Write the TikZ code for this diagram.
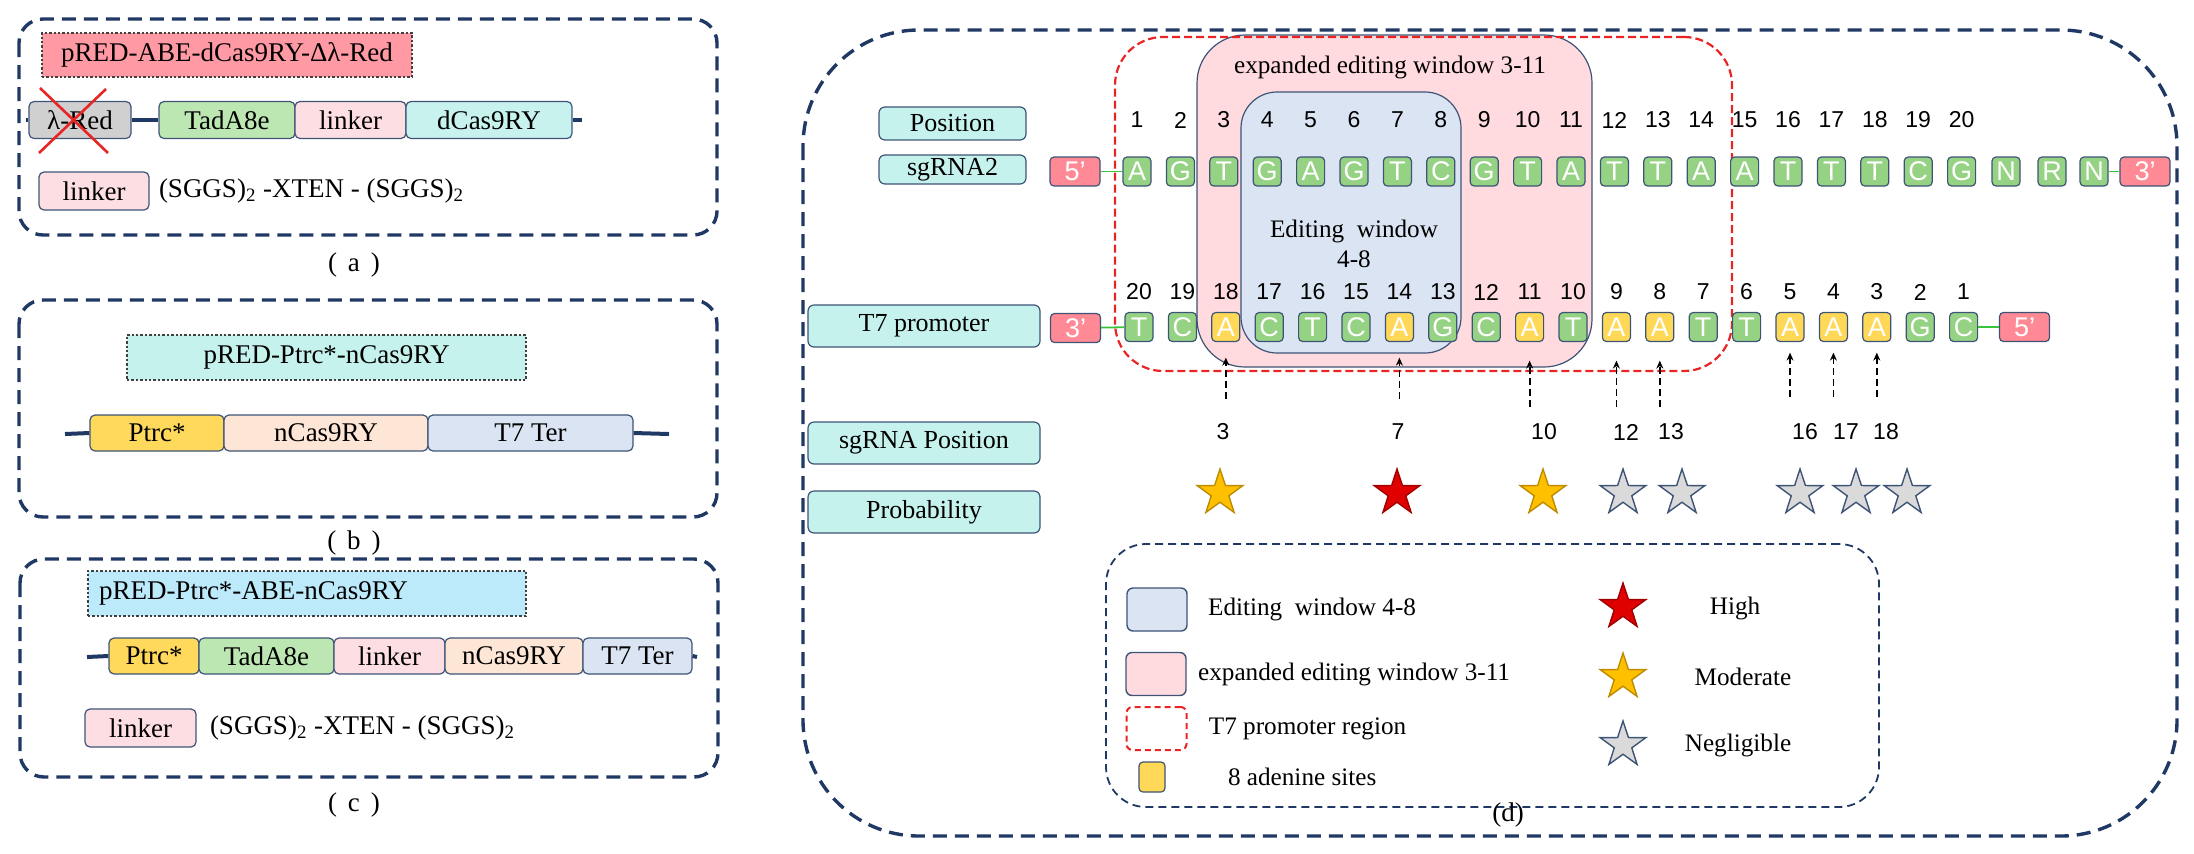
\documentclass[tikz,border=0pt]{standalone}
\usepackage{fontspec}
\setmainfont{Liberation Serif}
\newfontfamily\arialf{Liberation Sans}
\usetikzlibrary{shapes.geometric,arrows.meta,positioning,calc}

\definecolor{navy}{RGB}{31,56,100}
\definecolor{edge}{RGB}{62,84,118}
\definecolor{titlepink}{RGB}{255,153,163}
\definecolor{titlecyan}{RGB}{198,242,238}
\definecolor{titlesky}{RGB}{189,234,250}
\definecolor{redgray}{RGB}{208,208,208}
\definecolor{tadgreen}{RGB}{188,230,178}
\definecolor{linkpink}{RGB}{253,222,227}
\definecolor{cascyan}{RGB}{200,242,238}
\definecolor{ptrcyellow}{RGB}{255,217,92}
\definecolor{ncaspeach}{RGB}{253,230,214}
\definecolor{terblue}{RGB}{218,228,243}
\definecolor{ntgreen}{RGB}{150,210,132}
\definecolor{ntyellow}{RGB}{255,216,88}
\definecolor{endpink}{RGB}{255,138,150}
\definecolor{expink}{RGB}{255,218,223}
\definecolor{edblue}{RGB}{218,228,243}
\definecolor{linkgreen}{RGB}{60,195,60}
\definecolor{promred}{RGB}{232,36,36}
\definecolor{starorange}{RGB}{255,192,0}
\definecolor{starorangeb}{RGB}{190,140,0}
\definecolor{starred}{RGB}{225,0,0}
\definecolor{starredb}{RGB}{160,0,0}
\definecolor{stargray}{RGB}{218,218,218}

\begin{document}
\begin{tikzpicture}[x=0.5pt,y=-0.5pt,
  panel/.style={draw=navy, line width=1.7pt, dash pattern=on 7pt off 4pt, rounded corners=12pt},
  title/.style={draw=black!75, line width=0.6pt, dash pattern=on 1.2pt off 1pt, minimum height=22pt, inner sep=2pt, font=\fontsize{13.5}{16}\selectfont},
  part/.style={draw=edge, line width=0.6pt, rounded corners=2.5pt, minimum height=18.5pt, inner sep=1pt, font=\fontsize{13.5}{16}\selectfont},
  seq/.style={inner sep=0pt, font=\fontsize{13.5}{16}\selectfont},
  capt/.style={inner sep=0pt, font=\fontsize{13.5}{16}\selectfont},
  bb/.style={draw=navy, line width=2pt},
  crossline/.style={draw=promred, line width=1.3pt},
  lbl/.style={draw=edge, fill=titlecyan, line width=0.6pt, rounded corners=3pt, inner sep=1pt, font=\fontsize{13}{15}\selectfont},
  nt/.style={draw=edge, fill=ntgreen, line width=0.6pt, rounded corners=2pt, minimum width=14pt, minimum height=14.5pt, inner sep=0pt, text=white, font=\arialf\fontsize{13.5}{14}\selectfont},
  endbox/.style={draw=edge, fill=endpink, line width=0.6pt, rounded corners=2pt, minimum width=25pt, minimum height=14.5pt, inner sep=0pt, text=white, font=\arialf\fontsize{13.5}{14}\selectfont},
  numl/.style={inner sep=0pt, font=\arialf\fontsize{11.5}{13}\selectfont},
  glink/.style={draw=linkgreen, line width=0.9pt},
  win/.style={draw=edge, line width=0.6pt, inner sep=0pt},
  promreg/.style={draw=promred, line width=1.1pt, dash pattern=on 4pt off 2pt, rounded corners=24pt, inner sep=0pt},
  wtxt/.style={inner sep=0pt, font=\fontsize{12.6}{15}\selectfont},
  arr/.style={-{Stealth[length=4pt,width=3.5pt]}, dash pattern=on 3.5pt off 2pt, line width=0.9pt},
  starn/.style={star, star points=5, star point ratio=2.6, minimum size=24pt, inner sep=0pt, line width=0.7pt},
  legbox/.style={draw=navy, line width=0.9pt, dash pattern=on 4pt off 2.5pt, rounded corners=20pt, inner sep=0pt},
  lgsq/.style={draw=edge, line width=0.7pt, rounded corners=3pt, minimum width=30pt, minimum height=21.5pt, inner sep=0pt},
  lgtxt/.style={inner sep=0pt, font=\fontsize{12.6}{15}\selectfont}
]
\useasboundingbox (0,0) rectangle (2194,853);

% (a) pRED-ABE-dCas9RY
\draw[panel] (19,19) rectangle (717,235);
\node[title, fill=titlepink, minimum width=185pt] (ta) at (227,55) {pRED-ABE-dCas9RY-Δλ-Red};
\coordinate (a-l) at (26,120);
\coordinate (a-r) at (582,120);
\node[part, fill=redgray, minimum width=51pt] (lred) at (80,120) {λ-Red};
\node[part, fill=tadgreen, minimum width=68pt] (tada) at (227,120) {TadA8e};
\node[part, fill=linkpink, minimum width=55.5pt] (lka) at (350.5,120) {linker};
\node[part, fill=cascyan, minimum width=83pt] (dcas) at (489,120) {dCas9RY};
\draw[bb] (a-l) -- (lred.west) (lred.east) -- (tada.west) (dcas.east) -- (a-r);
\draw[crossline] (40,88) -- (108,153) (106,89) -- (39,153);
\node[part, fill=linkpink, minimum width=55pt, minimum height=19pt] (lkA) at (94,191) {linker};
\node[seq, right=4.5pt of lkA] (sqa) {(SGGS)\textsubscript{2} -XTEN - (SGGS)\textsubscript{2}};
\node[capt] (capa) at (354,265) {(\hspace{.4em}a\hspace{.4em})};

% (b) pRED-Ptrc*-nCas9RY
\draw[panel] (19,300) rectangle (717,517);
\node[title, fill=titlecyan, minimum width=199.5pt, minimum height=22.5pt] (tb) at (326.5,357.5) {pRED-Ptrc*-nCas9RY};
\coordinate (b-l) at (65,434);
\coordinate (b-r) at (669,434);
\node[part, fill=ptrcyellow, minimum width=67pt, minimum height=18pt] (ptb) at (157,433) {Ptrc*};
\node[part, fill=ncaspeach, minimum width=102pt, minimum height=18pt] (ncb) at (326,433) {nCas9RY};
\node[part, fill=terblue, minimum width=102.5pt, minimum height=18pt] (terb) at (530.5,433) {T7 Ter};
\draw[bb] (b-l) -- (ptb.west) (terb.east) -- (b-r);
\node[capt] (capb) at (354,543) {(\hspace{.4em}b\hspace{.4em})};

% (c) pRED-Ptrc*-ABE-nCas9RY
\draw[panel] (20,559) rectangle (718,777);
\node[title, fill=titlesky, minimum width=219pt, minimum height=22.5pt, text width=208pt, inner xsep=5.5pt, align=left] (tc) at (307,593.5) {pRED-Ptrc*-ABE-nCas9RY};
\coordinate (c-l) at (87,657);
\coordinate (c-r) at (697,657);
\node[part, fill=ptrcyellow, minimum width=45pt, minimum height=18pt] (ptc) at (154,656) {Ptrc*};
\node[part, fill=tadgreen, minimum width=67.5pt, minimum height=18pt] (tadc) at (266.5,656) {TadA8e};
\node[part, fill=linkpink, minimum width=55.5pt, minimum height=18pt] (lkc) at (389.5,656) {linker};
\node[part, fill=ncaspeach, minimum width=69pt, minimum height=18pt] (ncc) at (514,656) {nCas9RY};
\node[part, fill=terblue, minimum width=54.5pt, minimum height=18pt] (terc) at (637.5,656) {T7 Ter};
\draw[bb] (c-l) -- (ptc.west) (terc.east) -- (c-r);
\node[part, fill=linkpink, minimum width=55.5pt, minimum height=19pt] (lkC) at (140.5,728) {linker};
\node[seq, right=6.5pt of lkC] (sqc) {(SGGS)\textsubscript{2} -XTEN - (SGGS)\textsubscript{2}};
\node[capt] (capc) at (354,805) {(\hspace{.4em}c\hspace{.4em})};

% (d) sgRNA2 and T7 promoter
\draw[panel, rounded corners=58pt] (803,30) rectangle (2177,836);
\node[win, fill=expink, minimum width=197.5pt, minimum height=166pt, rounded corners=24pt] (exwin) at (1394.5,201) {};
\node[win, fill=edblue, minimum width=110pt, minimum height=130.5pt, rounded corners=18pt] (edwin) at (1351,222.5) {};
\node[promreg, minimum width=308.5pt, minimum height=167pt] (t7reg) at (1423.5,204) {};
\node[wtxt] at (1390,67) {expanded editing window 3-11};
\node[wtxt, align=center] at (1354,244) {Editing\ \ window\\4-8};

\node[lbl, minimum width=73.5pt, minimum height=16.5pt] (lpos) at (952.5,123.5) {Position};
\node[lbl, minimum width=73.5pt, minimum height=14.5pt] (lsg) at (952.5,169.5) {sgRNA2};
\node[lbl, minimum width=116pt, minimum height=21pt] (lt7) at (924,326) {T7 promoter};
\node[lbl, minimum width=116pt, minimum height=21pt] (lsgp) at (924,443) {sgRNA Position};
\node[lbl, minimum width=116pt, minimum height=21pt] (lprob) at (924,512) {Probability};

\foreach \b [count=\i] in {A,G,T,G,A,G,T,C,G,T,A,T,T,A,A,T,T,T,C,G} {
  \node[nt] (s\i) at ({1137+43.4*(\i-1)},171.5) {\b};
  \node[numl] at ({1137+43.4*(\i-1)},120) {\i};
}
\node[nt] (s21) at (2006,171.5) {N};
\node[nt] (s22) at (2052,171.5) {R};
\node[nt] (s23) at (2094,171.5) {N};
\node[endbox] (e5t) at (1075,171.5) {5’};
\node[endbox] (e3t) at (2145,171.5) {3’};
\draw[glink] (e5t) -- (s1);
\draw[glink] (s23) -- (e3t);

\foreach \b/\f [count=\i] in {T/ntgreen,C/ntgreen,A/ntyellow,C/ntgreen,T/ntgreen,C/ntgreen,A/ntyellow,G/ntgreen,C/ntgreen,A/ntyellow,T/ntgreen,A/ntyellow,A/ntyellow,T/ntgreen,T/ntgreen,A/ntyellow,A/ntyellow,A/ntyellow,G/ntgreen,C/ntgreen} {
  \pgfmathtruncatemacro\n{21-\i}
  \node[nt, fill=\f] (t\i) at ({1139+43.4*(\i-1)},327) {\b};
  \node[numl] at ({1139+43.4*(\i-1)},292) {\n};
}
\node[endbox] (e3b) at (1075.5,328) {3’};
\node[endbox] (e5b) at (2024.5,327) {5’};
\draw[glink] (e3b) -- (t1);
\draw[glink] (t20) -- (e5b);

% edited adenines
\foreach \c/\px/\tp/\tl in {3/1223/15.5/56.5, 7/1398/15.5/56.5, 10/1544/18.5/64.5, 12/1626/18.5/64.5, 13/1671/18.5/64.5, 16/1805/10.5/54.5, 17/1846/10.5/54.5, 18/1886/10.5/54.5} {
  \draw[arr] ($(t\c.south)+(0,\tl)$) -- ($(t\c.south)+(0,\tp)$);
  \node[numl] (p\c) at (\px,432) {\c};
}
\foreach \c/\sx/\f/\d in {3/1220/starorange/starorangeb, 7/1397/starred/starredb, 10/1543/starorange/starorangeb, 12/1623/stargray/edge, 13/1682/stargray/edge, 16/1800/stargray/edge, 17/1856/stargray/edge, 18/1907/stargray/edge} {
  \node[starn, fill=\f, draw=\d] (st\c) at (\sx,493) {};
}

% legend
\node[legbox, minimum width=386.5pt, minimum height=131.5pt] (leg) at (1492.5,675.5) {};
\node[lgsq, fill=edblue] (lg1) at (1157,609.5) {};
\node[lgtxt, right=10pt of lg1] {Editing\ \ window 4-8};
\node[lgsq, fill=expink] (lg2) at (1156,674) {};
\node[lgtxt, right=5.5pt of lg2] {expanded editing window 3-11};
\node[lgsq, draw=promred, dash pattern=on 3pt off 2pt, line width=1pt] (lg3) at (1156.5,728.5) {};
\node[lgtxt, right=10.5pt of lg3] {T7 promoter region};
\node[nt, fill=ntyellow, minimum width=13pt, minimum height=15pt] (lg4) at (1152,777) {};
\node[lgtxt, right=31pt of lg4] {8 adenine sites};
\node[starn, fill=starred, draw=starredb] (lgs1) at (1623,607) {};
\node[lgtxt] at (1735,608) {High};
\node[starn, fill=starorange, draw=starorangeb] (lgs2) at (1623,677) {};
\node[lgtxt] at (1743,677) {Moderate};
\node[starn, fill=stargray, draw=edge] (lgs3) at (1623,745) {};
\node[lgtxt] at (1738,745) {Negligible};
\node[capt] (capd) at (1508,815) {(d)};
\end{tikzpicture}
\end{document}
